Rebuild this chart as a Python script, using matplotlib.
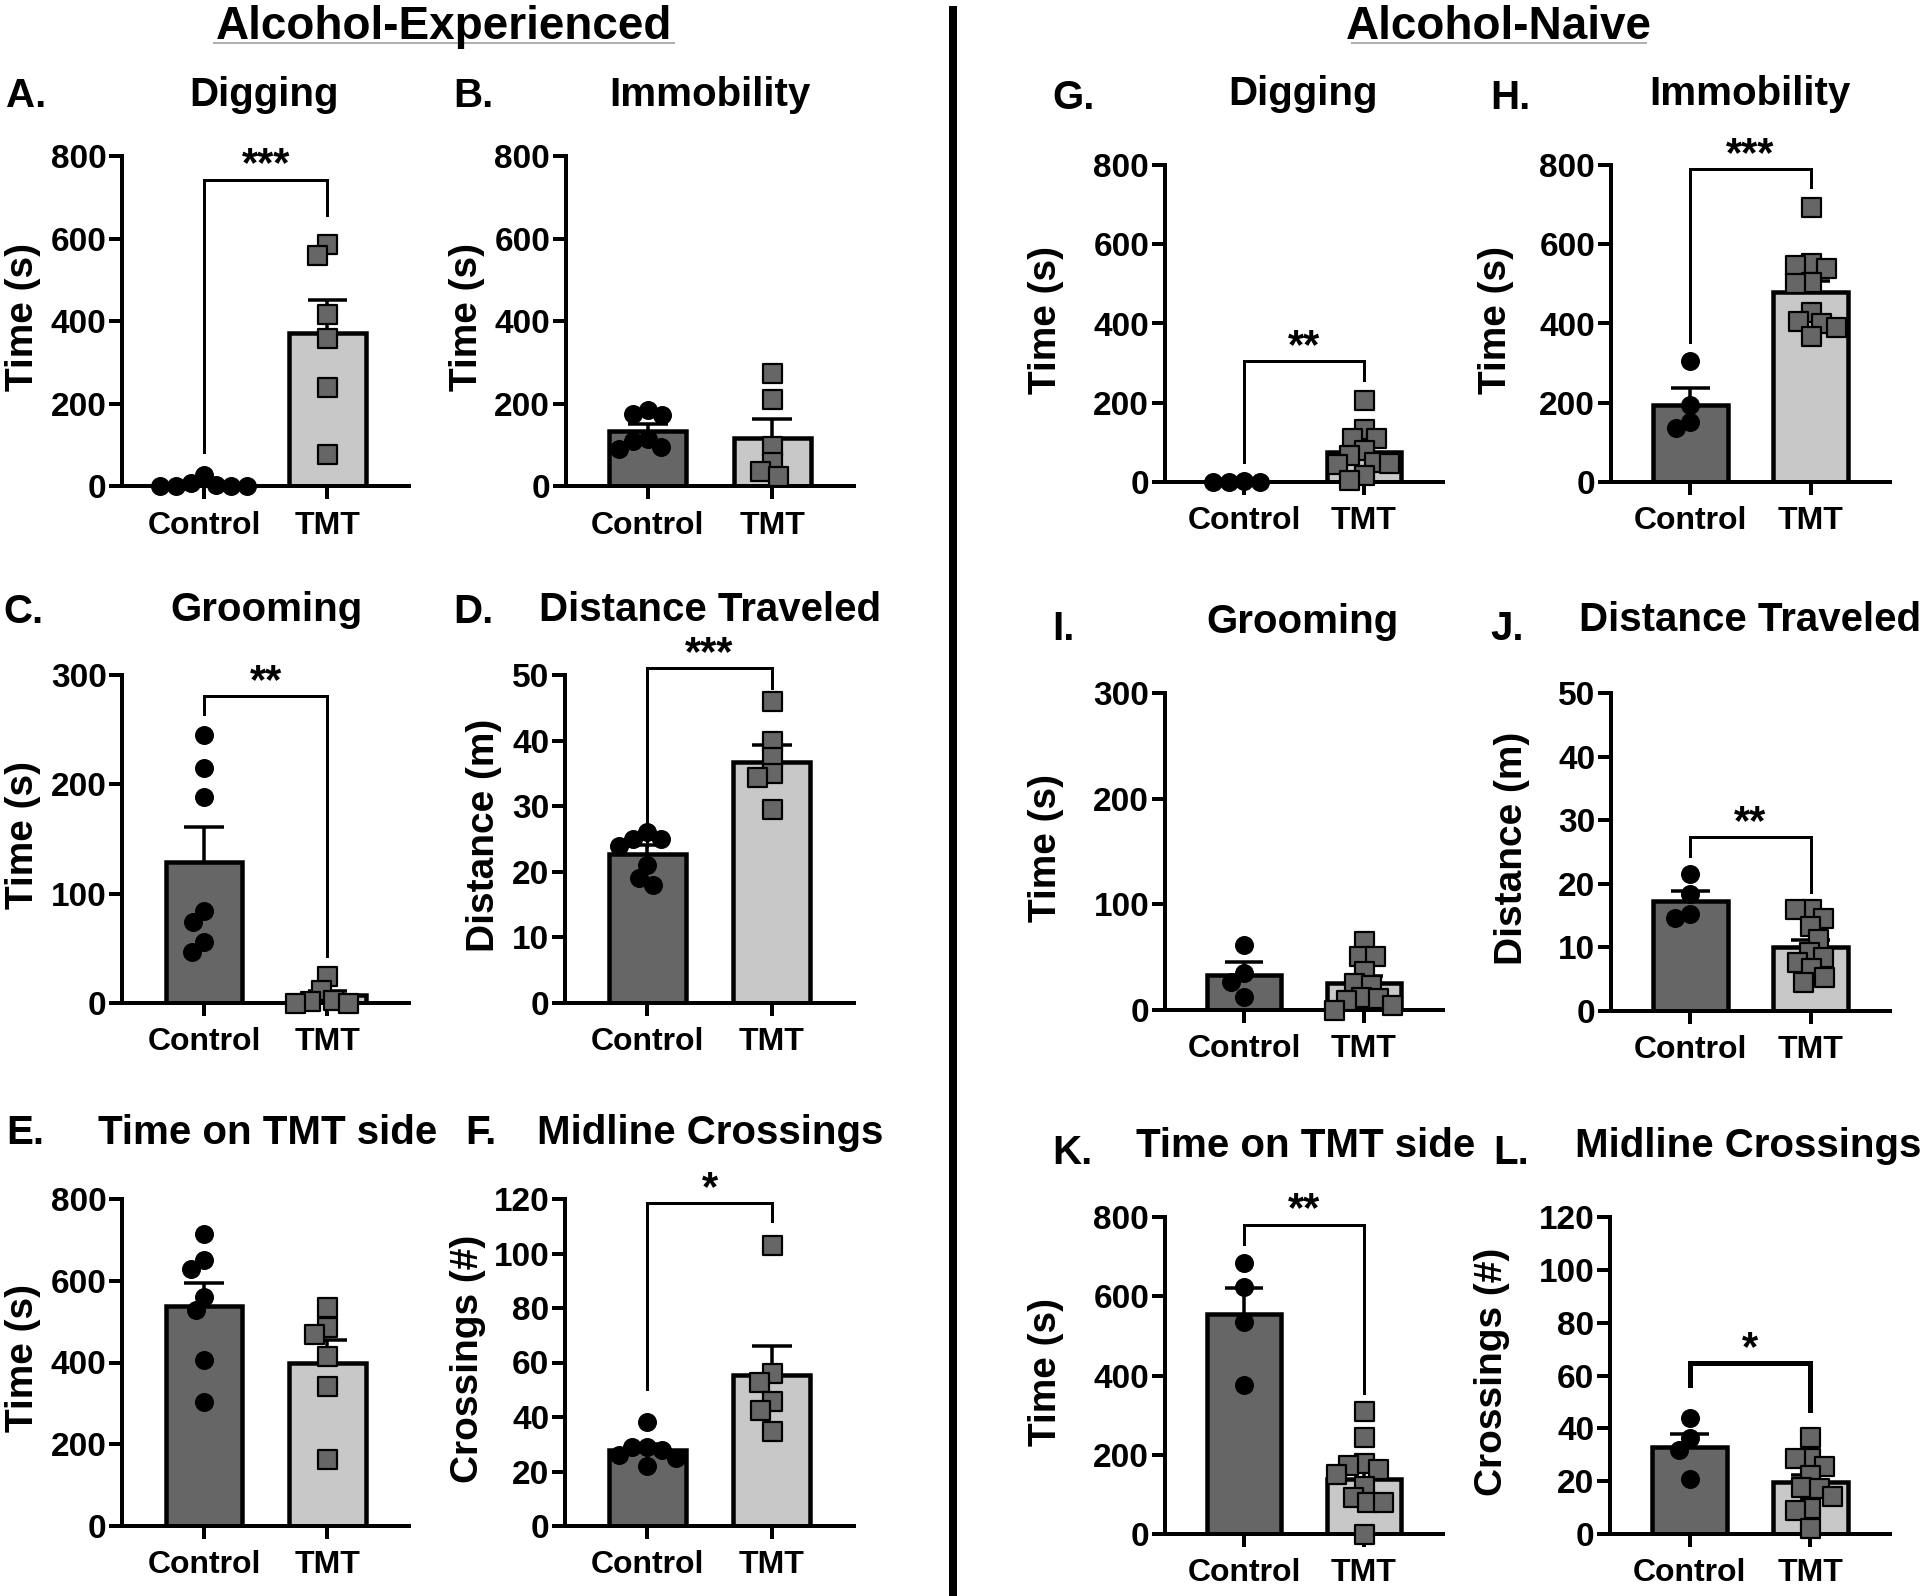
import numpy as np
import matplotlib
matplotlib.use("Agg")
import matplotlib.pyplot as plt
from matplotlib.lines import Line2D

W, H, DPI = 1920, 1596, 100
plt.rcParams['font.family'] = ['Liberation Sans', 'DejaVu Sans']
plt.rcParams['font.weight'] = 'bold'

groups = ['Control', 'TMT']

# ---- Alcohol-experienced (control n=7, TMT n=6) ----
dig_exp_ctrl = [28, 8, 3, 1, 0, 0, 0]
dig_exp_tmt = [587, 560, 417, 360, 240, 78]
dig_exp_bar = [5, 372]
dig_exp_sem = [4, 80]

imm_exp_ctrl = [185, 175, 172, 115, 110, 95, 90]
imm_exp_tmt = [275, 212, 98, 60, 38, 25]
imm_exp_bar = [134, 117]
imm_exp_sem = [17, 45]

groom_exp_ctrl = [245, 215, 188, 84, 74, 56, 47]
groom_exp_tmt = [25, 12, 3, 2, 0, 0]
groom_exp_bar = [129, 7]
groom_exp_sem = [32, 4]

dist_exp_ctrl = [26, 25, 25, 24, 21, 19, 18]
dist_exp_tmt = [46, 40, 37.5, 35, 34.5, 29.5]
dist_exp_bar = [22.7, 36.8]
dist_exp_sem = [1.4, 2.6]

side_exp_ctrl = [714, 651, 629, 560, 528, 407, 304]
side_exp_tmt = [537, 487, 470, 415, 342, 165]
side_exp_bar = [538, 400]
side_exp_sem = [57, 56]

cross_exp_ctrl = [38, 29, 29, 28, 26, 25, 22]
cross_exp_tmt = [103, 56, 53, 46, 42.5, 35]
cross_exp_bar = [28, 55.5]
cross_exp_sem = [2, 10.6]

# ---- Alcohol-naive (control n=4, TMT n=11) ----
dig_nai_ctrl = [3, 0, 0, 0]
dig_nai_tmt = [208, 135, 111, 111, 80, 69, 50, 48, 45, 17, 5]
dig_nai_bar = [1, 75]
dig_nai_sem = [1, 18]

imm_nai_ctrl = [306, 195, 152, 137]
imm_nai_tmt = [695, 552, 547, 541, 505, 503, 429, 407, 400, 392, 368]
imm_nai_bar = [195, 480]
imm_nai_sem = [41, 28]

groom_nai_ctrl = [61.5, 34.7, 26.8, 12.6]
groom_nai_tmt = [65, 51, 51, 37, 26, 24, 12.6, 11, 9.5, 4.7, 0]
groom_nai_bar = [33, 26]
groom_nai_sem = [12, 6.5]

dist_nai_ctrl = [21.5, 18.4, 15.3, 14.7]
dist_nai_tmt = [16, 16, 14.6, 13.4, 11.3, 9.3, 8.5, 7.7, 6.7, 5.4, 4.6]
dist_nai_bar = [17.3, 10]
dist_nai_sem = [1.6, 1.2]

side_nai_ctrl = [685, 623, 535, 377]
side_nai_tmt = [311, 244, 178, 174, 163, 151, 121, 94, 81.5, 81.5, 0]
side_nai_bar = [555, 140]
side_nai_sem = [67, 25]

cross_nai_ctrl = [43.8, 36.3, 31.9, 20.8]
cross_nai_tmt = [36.6, 28.7, 28.7, 25.6, 22.4, 17.8, 17.5, 14.5, 9.8, 9.2, 2.3]
cross_nai_bar = [33, 19.5]
cross_nai_sem = [5, 3]

# significance: stars, bracket height, left leg end, right leg end
dig_exp_sig = ('***', 743, 83, 658)
groom_exp_sig = ('**', 281, 264, 43)
dist_exp_sig = ('***', 51.1, 24, 48)
cross_exp_sig = ('*', 118.4, 50.2, 112)
dig_nai_sig = ('**', 306, 51, 257)
imm_nai_sig = ('***', 789, 354, 744)
dist_nai_sig = ('**', 27.4, 24.3, 18.7)
side_nai_sig = ('**', 781, 733, 356)
cross_nai_sig = ('*', 64.6, 56.4, 47)

CTRL_C = '#666666'
TMT_C = '#c8c8c8'
PX = 72.0 / DPI  # points per pixel
XLIM = (-0.66, 1.66)


def swarm(vals, d):
    # simple beeswarm in pixel space, returns x offsets (px)
    placed, offs = [], []
    for y in vals:
        cands = [0.0]
        for px, py in placed:
            dy = y - py
            if abs(dy) < d:
                dx = np.sqrt(d * d - dy * dy)
                cands += [px + dx, px - dx]
        ok = [c for c in cands
              if all((c - px) ** 2 + (y - py) ** 2 >= d * d - 1e-6 for px, py in placed)]
        best = min(ok, key=lambda c: (abs(c), c))
        placed.append((best, y))
        offs.append(best)
    return np.array(offs)


def panel(fig, box, ymax, step, ylabel, ctrl, tmt, bar, sem, sig,
          letter, title, letter_xy, title_xy, ylabel_x, heavy=False):
    L, R, T, B = box
    ax = fig.add_axes([L / W, 1 - B / H, (R - L) / W, (B - T) / H])
    ax.set_xlim(*XLIM)
    ax.set_ylim(0, ymax)
    for s in ('top', 'right'):
        ax.spines[s].set_visible(False)
    for s in ('left', 'bottom'):
        ax.spines[s].set_linewidth(4 * PX)
    ax.tick_params(axis='both', width=4 * PX, length=13 * PX)
    ax.tick_params(axis='y', pad=2, labelsize=24)
    ax.tick_params(axis='x', pad=8, labelsize=23)
    ax.set_yticks(np.arange(0, ymax + 1e-9, step))
    ax.set_xticks([0, 1])
    ax.set_xticklabels(groups)

    ax.bar([0, 1], bar, width=0.62, color=[CTRL_C, TMT_C], edgecolor='k',
           linewidth=4.5 * PX, zorder=2)
    for i in range(2):
        top = bar[i] + sem[i]
        ax.plot([i, i], [bar[i], top], color='k', lw=3.5 * PX, zorder=3,
                solid_capstyle='butt')
        ax.plot([i - 0.16, i + 0.16], [top, top], color='k', lw=3.5 * PX,
                zorder=3, solid_capstyle='butt')

    ypx = (B - T) / ymax
    xpx = (R - L) / (XLIM[1] - XLIM[0])
    for i, (vals, mk) in enumerate(((ctrl, 'o'), (tmt, 's'))):
        v = np.sort(np.asarray(vals, float))[::-1]
        off = swarm(v * ypx, 15.5) / xpx
        if mk == 'o':
            ax.scatter(i + off, v, s=(19 * PX) ** 2, marker='o', color='k',
                       lw=0, zorder=4, clip_on=False)
        else:
            ax.scatter(i + off, v, s=(19 * PX) ** 2, marker='s', facecolor=CTRL_C,
                       edgecolor='k', lw=2.2 * PX, zorder=4, clip_on=False)

    if sig is not None:
        stars, yb, yl, yr = sig
        lw = (5 if heavy else 3) * PX
        ax.plot([0, 0, 1, 1], [yl, yb, yb, yr], color='k', lw=lw,
                clip_on=False, zorder=3, solid_joinstyle='miter')
        ax.annotate(stars, xy=(0.5, yb), xytext=(0, 3 * PX), textcoords='offset points',
                    ha='center', va='baseline', fontsize=30, annotation_clip=False)

    fig.text(letter_xy[0] / W, 1 - letter_xy[1] / H, letter, fontsize=29,
             ha='left', va='baseline')
    fig.text(title_xy[0] / W, 1 - title_xy[1] / H, title, fontsize=29,
             ha='center', va='baseline')
    fig.text(ylabel_x / W, 1 - ((T + B) / 2 - 4) / H, ylabel, fontsize=28,
             rotation=90, ha='center', va='center')
    return ax


fig = plt.figure(figsize=(W / DPI, H / DPI), dpi=DPI)

specs = [
    ((122.5, 409, 156, 486.4), 800, 200, 'Time (s)', dig_exp_ctrl, dig_exp_tmt, dig_exp_bar, dig_exp_sem, dig_exp_sig,
     'A.', 'Digging', (6, 107), (264, 106), 23),
    ((566, 854, 156, 486.4), 800, 200, 'Time (s)', imm_exp_ctrl, imm_exp_tmt, imm_exp_bar, imm_exp_sem, None,
     'B.', 'Immobility', (453, 107), (710, 106), 467),
    ((122.5, 409, 675, 1003), 300, 100, 'Time (s)', groom_exp_ctrl, groom_exp_tmt, groom_exp_bar, groom_exp_sem, groom_exp_sig,
     'C.', 'Grooming', (3, 623), (266, 621), 23),
    ((565, 854, 675, 1003), 50, 10, 'Distance (m)', dist_exp_ctrl, dist_exp_tmt, dist_exp_bar, dist_exp_sem, dist_exp_sig,
     'D.', 'Distance Traveled', (453, 623), (710, 621), 484),
    ((122.5, 409, 1199, 1526), 800, 200, 'Time (s)', side_exp_ctrl, side_exp_tmt, side_exp_bar, side_exp_sem, None,
     'E.', 'Time on TMT side', (6, 1144), (268, 1144), 23),
    ((565, 854, 1199, 1526), 120, 20, 'Crossings (#)', cross_exp_ctrl, cross_exp_tmt, cross_exp_bar, cross_exp_sem, cross_exp_sig,
     'F.', 'Midline Crossings', (465, 1144), (710, 1144), 468),
    ((1165, 1443, 165, 482), 800, 200, 'Time (s)', dig_nai_ctrl, dig_nai_tmt, dig_nai_bar, dig_nai_sem, dig_nai_sig,
     'G.', 'Digging', (1052, 109), (1303, 105), 1046),
    ((1611, 1890, 165, 482), 800, 200, 'Time (s)', imm_nai_ctrl, imm_nai_tmt, imm_nai_bar, imm_nai_sem, imm_nai_sig,
     'H.', 'Immobility', (1490, 109), (1750, 105), 1496),
    ((1165, 1443, 693, 1010), 300, 100, 'Time (s)', groom_nai_ctrl, groom_nai_tmt, groom_nai_bar, groom_nai_sem, None,
     'I.', 'Grooming', (1052, 640), (1303, 633), 1046),
    ((1611, 1890, 693, 1011), 50, 10, 'Distance (m)', dist_nai_ctrl, dist_nai_tmt, dist_nai_bar, dist_nai_sem, dist_nai_sig,
     'J.', 'Distance Traveled', (1490, 640), (1750, 631), 1512),
    ((1165, 1443, 1217, 1534), 800, 200, 'Time (s)', side_nai_ctrl, side_nai_tmt, side_nai_bar, side_nai_sem, side_nai_sig,
     'K.', 'Time on TMT side', (1052, 1164), (1306, 1157), 1046),
    ((1610, 1890, 1217, 1534), 120, 20, 'Crossings (#)', cross_nai_ctrl, cross_nai_tmt, cross_nai_bar, cross_nai_sem, cross_nai_sig,
     'L.', 'Midline Crossings', (1493, 1164), (1748, 1157), 1492),
]
for sp in specs:
    panel(fig, *sp, heavy=(sp[9] == 'L.'))

# group headings with underline
for txt, xc, x0, x1 in (('Alcohol-Experienced', 444, 214, 674),
                        ('Alcohol-Naive', 1499, 1352, 1646)):
    fig.text(xc / W, 1 - 39 / H, txt, fontsize=33, ha='center', va='baseline')
    fig.add_artist(Line2D([x0 / W, x1 / W], [1 - 43 / H, 1 - 43 / H],
                          color='#b0b0b0', lw=2 * PX))

# vertical divider
fig.add_artist(Line2D([953 / W, 953 / W], [1 - 10 / H, 0], color='k', lw=8 * PX))

fig.savefig('out.png', dpi=DPI, facecolor='white')
